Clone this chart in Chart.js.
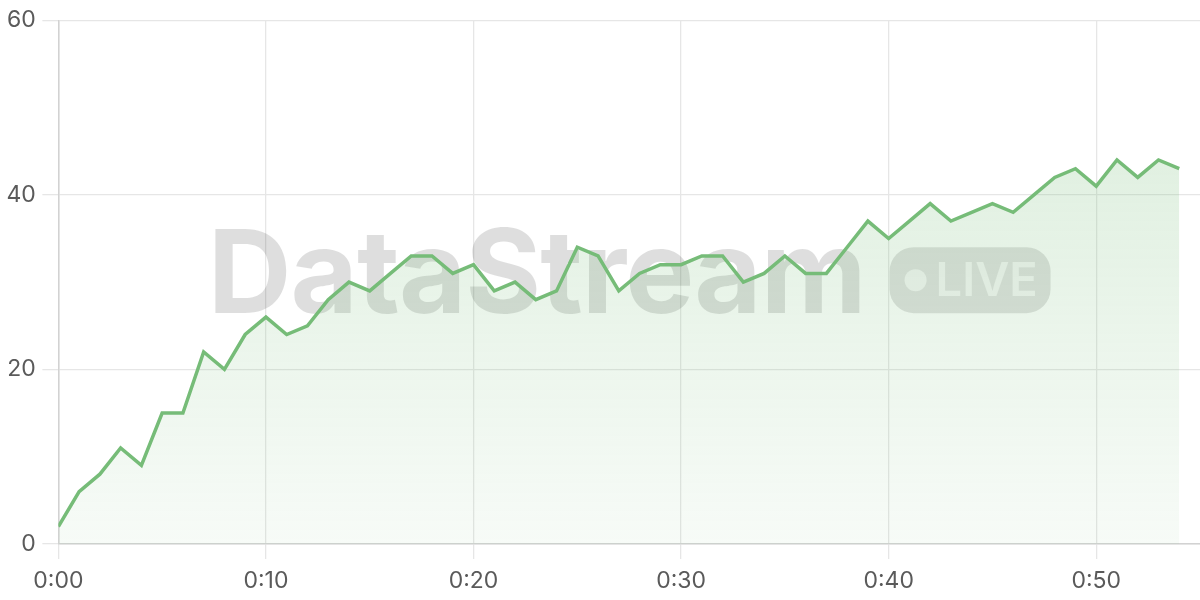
<!DOCTYPE html>
<html>
<head>
<meta charset="utf-8">
<script src="https://cdn.jsdelivr.net/npm/chart.js@4"></script>
<style>
  html, body { margin: 0; padding: 0; background: #fff; }
  #wrap { width: 1200px; height: 600px; }
</style>
</head>
<body>
<div id="wrap"><canvas id="live-chart"></canvas></div>
<script>
const minutes = [
    0, 1, 2, 3, 4, 5, 6, 7, 8, 9,
    10, 11, 12, 13, 14, 15, 16, 17, 18, 19,
    20, 21, 22, 23, 24, 25, 26, 27, 28, 29,
    30, 31, 32, 33, 34, 35, 36, 37, 38, 39,
    40, 41, 42, 43, 44, 45, 46, 47, 48, 49,
    50, 51, 52, 53, 54,
];
const viewers = [
    2, 6, 8, 11, 9, 15, 15, 22, 20, 24,
    26, 24, 25, 28, 30, 29, 31, 33, 33, 31,
    32, 29, 30, 28, 29, 34, 33, 29, 31, 32,
    32, 33, 33, 30, 31, 33, 31, 31, 34, 37,
    35, 37, 39, 37, 38, 39, 38, 40, 42, 43,
    41, 44, 42, 44, 43,
];
const xTicks = [0, 10, 20, 30, 40, 50];
const yTicks = [0, 20, 40, 60];

const green = 'rgb(118, 188, 120)';

// watermark sits behind the line but over the grid
const watermark = {
    id: 'watermark',
    beforeDatasetsDraw(chart) {
        const { ctx, chartArea: a } = chart;
        const cx = (a.left + a.right) / 2;
        const cy = (a.top + a.bottom) / 2;
        ctx.save();
        ctx.font = 'bold 116px Inter';
        ctx.letterSpacing = '-1px';
        const textW = ctx.measureText('DataStream').width;
        const gap = 24, badgeW = 161, badgeH = 66;
        const left = cx - (textW + gap + badgeW) / 2;
        const base = cy + 31;
        ctx.fillStyle = 'rgba(0, 0, 0, 0.13)';
        ctx.textBaseline = 'alphabetic';
        ctx.fillText('DataStream', left, base);

        const bx = left + textW + gap;
        const by = base - badgeH;
        ctx.beginPath();
        ctx.roundRect(bx, by, badgeW, badgeH, 24);
        ctx.fillStyle = 'rgba(0, 0, 0, 0.12)';
        ctx.fill();

        ctx.fillStyle = 'rgba(255, 255, 255, 0.65)';
        ctx.beginPath();
        ctx.arc(bx + 26, by + badgeH / 2, 11, 0, Math.PI * 2);
        ctx.fill();
        ctx.letterSpacing = '0px';
        ctx.font = '600 47px Inter';
        ctx.textBaseline = 'middle';
        ctx.fillText('LIVE', bx + 46, by + badgeH / 2 + 2);
        ctx.restore();
    }
};

const liveCanvas = document.getElementById('live-chart');
const liveData = {
    datasets: [{
        data: minutes.map((m, i) => ({ x: m, y: viewers[i] })),
        borderColor: green,
        borderWidth: 3.5,
        pointRadius: 0,
        tension: 0,
        fill: 'origin',
        backgroundColor(context) {
            const area = context.chart.chartArea;
            if (!area) return 'rgba(118, 188, 120, 0.15)';
            const g = context.chart.ctx.createLinearGradient(0, area.top, 0, area.bottom);
            g.addColorStop(0, 'rgba(118, 188, 120, 0.28)');
            g.addColorStop(1, 'rgba(118, 188, 120, 0.06)');
            return g;
        },
    }]
};
const liveConfig = {
    type: 'line',
    data: liveData,
    options: {
        animation: false,
        responsive: true,
        maintainAspectRatio: false,
        layout: { padding: { top: 10, right: 0, bottom: -4, left: 0 } },
        plugins: {
            legend: { display: false },
            tooltip: { enabled: false },
        },
        scales: {
            x: {
                type: 'linear',
                min: 0,
                max: 55,
                afterBuildTicks: axis => { axis.ticks = xTicks.map(v => ({ value: v })); },
                grid: { color: '#e6e6e6', lineWidth: 1.3, tickLength: 15 },
                border: { color: '#d2d2d2', width: 1.5 },
                ticks: {
                    color: '#5a5a5a',
                    font: { family: 'Inter', size: 23, lineHeight: 1.0 },
                    padding: 11,
                    maxRotation: 0,
                    callback: v => '0:' + String(v).padStart(2, '0'),
                },
            },
            y: {
                min: 0,
                max: 60,
                afterBuildTicks: axis => { axis.ticks = yTicks.map(v => ({ value: v })); },
                grid: { color: '#e6e6e6', lineWidth: 1.3, tickLength: 16 },
                border: { color: '#d2d2d2', width: 1.5 },
                ticks: {
                    color: '#5a5a5a',
                    font: { family: 'Inter', size: 23 },
                    padding: 6.5,
                },
            },
        },
    },
    plugins: [watermark],
};

const liveChart = new Chart(liveCanvas, liveConfig);
</script>
</body>
</html>
